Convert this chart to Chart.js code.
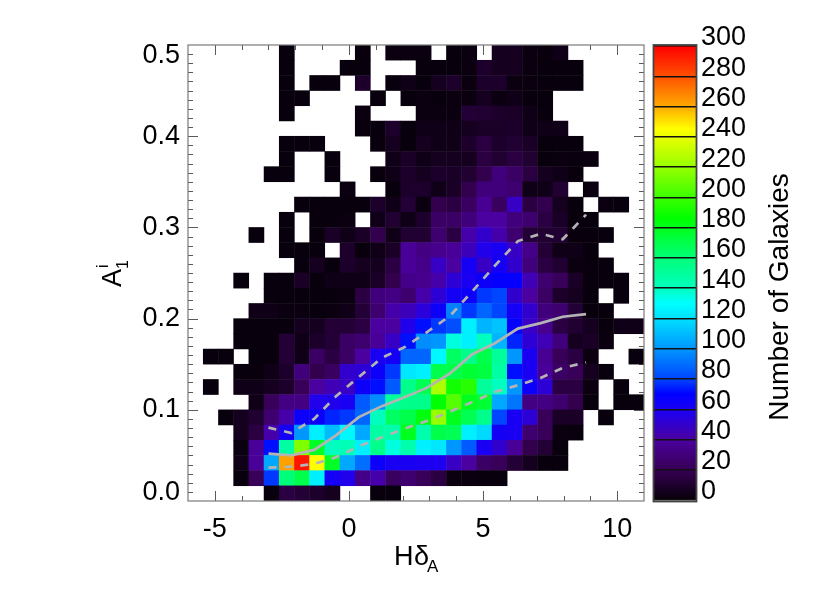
<!DOCTYPE html>
<html>
<head>
<meta charset="utf-8">
<style>
html,body{margin:0;padding:0;background:#fff;overflow:hidden;width:830px;height:593px}
canvas{position:absolute;top:0;display:block}
#main{left:0}
#bar{left:640px}
</style>
<script src="https://cdn.jsdelivr.net/npm/chart.js@4/dist/chart.umd.min.js"></script>
</head>
<body>
<canvas id="main" width="830" height="593"></canvas>
<canvas id="bar" width="190" height="593"></canvas>
<script>
// Number of galaxies per cell, top row (A=0.5) first, left column (H=-6) first
const counts = [
[0,0,0,0,0,0,1,0,0,0,0,1,0,2,2,2,0,1,2,0,6,6,2,1,4,0,0,0,0,0],
[0,0,0,0,0,0,1,0,0,0,1,1,0,0,0,1,1,1,2,9,6,6,2,1,1,1,0,0,0,0],
[0,0,0,0,0,0,1,0,1,1,0,9,0,1,4,1,6,9,2,9,9,2,2,1,1,1,0,0,0,0],
[0,0,0,0,0,0,1,1,0,0,0,0,1,0,1,2,1,2,2,6,2,4,1,1,0,0,0,0,0,0],
[0,0,0,0,0,0,1,0,0,0,0,2,0,0,0,2,2,2,12,11,9,8,4,1,0,0,0,0,0,0],
[0,0,0,0,0,0,0,0,0,0,0,1,1,9,1,4,4,4,6,8,8,9,4,4,4,0,0,0,0,0],
[0,0,0,0,0,0,1,1,1,0,0,0,1,6,1,6,4,4,9,15,9,11,8,1,1,1,0,0,0,0],
[0,0,0,0,0,0,1,0,0,1,0,0,0,4,8,4,6,6,6,15,11,15,11,1,2,1,2,0,0,0],
[0,0,0,0,0,1,1,0,0,1,0,0,1,4,9,6,9,8,11,18,30,24,15,6,4,1,0,0,0,0],
[0,0,0,0,0,0,0,0,0,0,2,0,0,1,9,9,4,8,18,30,30,27,4,4,11,0,2,0,0,0],
[0,0,0,0,0,0,0,1,1,1,1,1,9,4,12,2,18,15,23,36,23,48,15,18,6,1,0,2,1,0],
[0,0,0,0,0,0,1,0,1,1,2,0,4,11,4,9,24,24,30,40,40,30,27,15,8,1,1,0,0,0],
[0,0,0,0,1,0,1,0,1,8,4,8,18,4,11,11,27,15,42,50,42,27,12,11,11,1,1,1,0,0],
[0,0,0,0,0,0,1,1,1,0,9,1,4,8,38,32,35,38,46,57,60,48,34,12,4,4,1,0,0,0],
[0,0,0,0,0,0,0,1,6,1,9,6,6,15,38,34,48,40,62,48,62,50,30,15,11,2,1,1,0,0],
[0,0,0,1,0,1,1,8,1,4,4,4,8,18,34,35,42,52,60,65,68,68,45,27,21,8,1,1,1,0],
[0,0,0,0,0,1,1,1,1,1,2,15,30,32,27,42,52,62,65,78,80,50,40,24,9,6,1,0,1,0],
[0,0,0,0,4,4,2,2,1,2,4,12,27,42,46,53,65,95,78,88,80,62,50,30,27,12,1,1,0,0],
[0,0,0,1,1,1,1,6,6,12,12,15,40,40,57,72,78,82,125,108,112,68,48,35,15,11,6,1,4,4],
[0,0,0,1,1,1,12,4,9,12,24,27,38,48,72,98,100,135,125,140,108,75,52,45,30,6,8,2,0,0],
[0,1,1,0,1,1,12,4,24,15,24,40,60,62,88,88,128,165,155,170,150,100,60,36,21,15,2,0,0,1],
[0,0,0,1,1,4,9,30,18,23,50,52,65,78,122,125,170,170,175,172,148,72,60,38,24,21,6,1,0,0],
[0,1,0,4,4,6,9,21,40,45,48,65,72,85,155,168,225,190,195,150,140,100,65,52,15,15,2,0,1,0],
[0,0,0,0,4,21,32,32,57,57,60,85,98,150,155,155,185,205,180,175,105,92,32,32,27,18,1,0,1,1],
[0,0,1,6,11,27,42,65,65,75,78,88,140,165,170,183,220,180,168,155,80,60,52,21,8,8,0,1,0,0],
[0,0,0,6,15,42,62,100,125,110,128,105,148,145,180,145,170,168,125,118,62,60,27,21,2,1,0,0,0,0],
[0,0,0,2,38,72,148,215,178,140,142,125,155,135,145,125,122,100,85,60,50,38,18,12,1,0,0,0,0,0],
[0,0,0,4,38,105,262,295,245,178,105,90,65,60,60,58,58,48,40,24,21,12,6,1,1,0,0,0,0,0],
[0,0,0,1,21,78,160,170,125,62,57,34,42,23,27,21,15,2,2,1,1,0,0,0,0,0,0,0,0,0],
[0,0,0,0,0,1,15,12,9,6,0,0,1,1,0,0,0,0,0,0,0,0,0,0,0,0,0,0,0,0]
];
const lineX = [-3.0,-2.15,-1.3,-0.48,0.37,1.23,2.09,2.9,3.77,4.6,5.44,6.3,7.15,7.97,8.84];
const medianY = [0.052,0.050,0.056,0.072,0.092,0.104,0.114,0.124,0.140,0.161,0.173,0.189,0.195,0.202,0.205];
const upperY = [0.0804,0.0746,0.090,0.115,0.136,0.157,0.169,0.185,0.203,0.230,0.258,0.285,0.293,0.287,0.314];
const lowerY = [0.0365,0.0376,0.0406,0.048,0.060,0.070,0.0795,0.0877,0.098,0.1086,0.1195,0.127,0.135,0.146,0.152];
const xTickValues = [-5,0,5,10];
const yTickValues = [0,0.1,0.2,0.3,0.4,0.5];
const barTickValues = [0,20,40,60,80,100,120,140,160,180,200,220,240,260,280,300];
const colorStops = [
[0,6,0,8],[20,55,0,85],[40,75,0,160],[58,30,0,240],[70,0,0,255],[80,0,70,255],
[100,0,150,255],[120,0,225,255],[130,0,255,255],[140,0,255,190],[160,0,255,120],
[186,0,255,0],[200,60,255,0],[220,150,255,0],[245,255,255,0],[260,255,170,0],
[280,255,80,0],[300,255,0,0]];

const X_MIN=-6, X_MAX=11, Y_MIN=0, Y_MAX=0.5, NBINS=30;
const FONT='"Liberation Sans", Arial, Helvetica, sans-serif';
const TICK_SIZE=27;

function colorFor(v){
  for(let i=1;i<colorStops.length;i++){
    const a=colorStops[i-1], b=colorStops[i];
    if(v<=b[0]){
      const t=(v-a[0])/(b[0]-a[0]);
      return 'rgb('+[1,2,3].map(k=>Math.round(a[k]+(b[k]-a[k])*t)).join(',')+')';
    }
  }
  return 'rgb(255,0,0)';
}
const cells=[];
counts.forEach((row,r)=>row.forEach((v,c)=>{
  if(v>0) cells.push({
    x:X_MIN+(c+0.5)*(X_MAX-X_MIN)/NBINS,
    y:Y_MAX-(r+0.5)*(Y_MAX-Y_MIN)/NBINS,
    v:v});
}));
const toXY=ys=>lineX.map((x,i)=>({x:x,y:ys[i]}));

function lineSet(ys,dash){
  return {type:'scatter',showLine:true,data:toXY(ys),borderColor:'#b4b4b4',borderWidth:2.7,
    borderDash:dash,pointRadius:0,fill:false,tension:0,order:0};
}

const ticksPlugin={
  id:'inwardTicks',
  beforeDatasetsDraw(chart){
    const {ctx,chartArea:a,scales:{x,y}}=chart;
    ctx.save();
    ctx.strokeStyle='#5a5a5a';ctx.lineWidth=1;
    ctx.beginPath();
    for(let v=X_MIN+1;v<X_MAX;v++){
      const px=Math.round(x.getPixelForValue(v))+0.5;
      const len=(v%5===0)?10:5;
      ctx.moveTo(px,a.bottom);ctx.lineTo(px,a.bottom-len);
      ctx.moveTo(px,a.top);ctx.lineTo(px,a.top+len);
    }
    for(let i=1;i<50;i++){
      const py=Math.round(y.getPixelForValue(i/100))+0.5;
      const len=(i%10===0)?10:5;
      ctx.moveTo(a.left,py);ctx.lineTo(a.left+len,py);
      ctx.moveTo(a.right,py);ctx.lineTo(a.right-len,py);
    }
    ctx.stroke();
    ctx.restore();
  },
  afterDraw(chart){
    const {ctx,chartArea:a}=chart;
    ctx.save();
    ctx.strokeStyle='#7a7a7a';ctx.lineWidth=1.2;
    ctx.strokeRect(a.left,a.top,a.right-a.left,a.bottom-a.top);
    ctx.fillStyle='#000';
    ctx.textBaseline='alphabetic';ctx.textAlign='left';
    // x title
    ctx.font='27px '+FONT;
    ctx.fillText('H',394,565);
    ctx.fillText('δ',414,565);
    ctx.font='17px '+FONT;
    ctx.fillText('A',427,572);
    // y title
    ctx.translate(121,287);
    ctx.rotate(-Math.PI/2);
    ctx.font='27px '+FONT;
    ctx.fillText('A',0,0);
    ctx.font='16px '+FONT;
    ctx.fillText('1',18,7);
    ctx.fillText('i',19,-13);
    ctx.restore();
  }
};

new Chart(document.getElementById('main'),{
  type:'scatter',
  data:{datasets:[
    lineSet(medianY,[]),
    lineSet(upperY,[8,8]),
    lineSet(lowerY,[8,8]),
    {label:'Number of Galaxies',data:cells,pointStyle:'rect',order:2,
     borderWidth:0,
     pointBorderWidth:0,
     pointHoverRadius:0,
     pointRadius(ctx){
       const s=ctx.chart.scales.x;
       const w=Math.abs(s.getPixelForValue((X_MAX-X_MIN)/NBINS)-s.getPixelForValue(0));
       return (w+0.5)/Math.SQRT2;
     },
     pointBackgroundColor(ctx){return ctx.raw?colorFor(ctx.raw.v):'#000';}
    }
  ]},
  options:{
    responsive:false,animation:false,events:[],
    layout:{padding:{top:45,right:186,left:0,bottom:0}},
    plugins:{legend:{display:false},tooltip:{enabled:false},title:{display:false}},
    scales:{
      x:{type:'linear',min:X_MIN,max:X_MAX,position:'bottom',
        grid:{display:false,drawTicks:false},border:{display:false},
        afterBuildTicks(s){s.ticks=xTickValues.map(v=>({value:v}));},
        afterFit(s){s.height=92;},
        ticks:{color:'#000',font:{family:FONT,size:TICK_SIZE},padding:12,maxRotation:0,autoSkip:false,
          callback:v=>String(v)}},
      y:{type:'linear',min:Y_MIN,max:Y_MAX,position:'left',
        grid:{display:false,drawTicks:false},border:{display:false},
        afterBuildTicks(s){s.ticks=yTickValues.map(v=>({value:v}));},
        afterFit(s){s.width=188;},
        ticks:{color:'#000',padding:8,autoSkip:false,
          font(ctx){
            const v=ctx.tick?ctx.tick.value:0.2;
            return {family:FONT,size:TICK_SIZE,lineHeight:(v===0?'16px':(v===0.5?'22px':'30px'))};
          },
          callback(v){
            const t=Number(v).toFixed(1);
            if(v===0) return [t,''];
            if(v===0.5) return ['',t];
            return t;
          }}}
    }
  },
  plugins:[ticksPlugin]
});

const barPlugin={
  id:'barFrame',
  afterDraw(chart){
    const {ctx,chartArea:a}=chart;
    ctx.save();
    ctx.strokeStyle='#444';ctx.lineWidth=1.8;
    ctx.strokeRect(a.left-0.5,a.top-1,a.right-a.left+1,a.bottom-a.top+2.5);
    ctx.translate(148,297);
    ctx.rotate(-Math.PI/2);
    ctx.fillStyle='#000';ctx.textAlign='center';ctx.textBaseline='alphabetic';
    ctx.font='28px '+FONT;
    ctx.fillText('Number of Galaxies',0,0);
    ctx.restore();
  }
};
new Chart(document.getElementById('bar'),{
  type:'bar',
  data:{labels:[''],datasets:[{
    data:[[0,300]],barPercentage:1,categoryPercentage:1,borderWidth:0,
    backgroundColor(ctx){
      const {chart}=ctx,a=chart.chartArea;
      if(!a) return '#000';
      const y=chart.scales.y;
      const g=chart.ctx.createLinearGradient(0,y.getPixelForValue(0),0,y.getPixelForValue(300));
      colorStops.forEach(s=>g.addColorStop(s[0]/300,colorFor(s[0])));
      return g;
    }
  }]},
  options:{
    responsive:false,animation:false,events:[],
    layout:{padding:{left:14,top:46,bottom:93,right:0}},
    plugins:{legend:{display:false},tooltip:{enabled:false}},
    scales:{
      x:{display:false},
      y:{position:'right',min:0,max:300,
        afterBuildTicks(s){s.ticks=barTickValues.map(v=>({value:v}));},
        afterFit(s){s.width=134;},
        grid:{z:1,color:'#111',lineWidth:1.4,drawTicks:false},
        border:{display:false},
        ticks:{color:'#000',font:{family:FONT,size:TICK_SIZE},padding:5,labelOffset:-8,autoSkip:false,
          callback:v=>String(v)}}
    }
  },
  plugins:[barPlugin]
});
</script>
</body>
</html>
